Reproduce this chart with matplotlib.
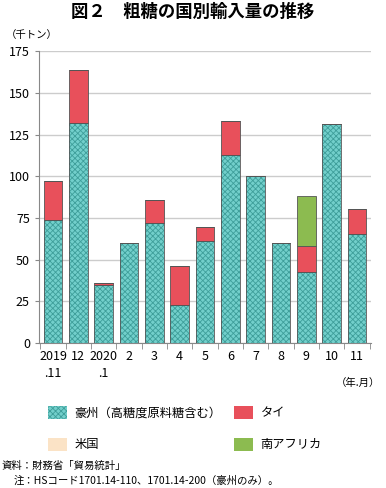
import matplotlib.pyplot as plt
import matplotlib.patches as mpatches
import numpy as np

plt.rcParams['font.family'] = ['Noto Sans CJK JP', 'DejaVu Sans']
plt.rcParams['hatch.linewidth'] = 0.6

# データ（千トン）
meses = ['2019\n.11', '12', '2020\n.1', '2', '3', '4', '5', '6', '7', '8', '9', '10', '11']
australia = [74, 132, 35, 60, 72, 23, 61, 113, 100, 60, 42.5, 131.5, 65.5]
tailandia = [23, 32, 1, 0, 13.5, 23, 8.5, 20, 0, 0, 15.5, 0, 15]
eeuu = [0, 0, 0, 0, 0, 0, 0, 0, 0, 0, 0, 0, 0]
sudafrica = [0, 0, 0, 0, 0, 0, 0, 0, 0, 0, 30, 0, 0]

c_aus = '#72cfcb'
c_hatch = '#3e9e9a'
c_tai = '#e8505b'
c_us = '#fbe3c6'
c_sa = '#8cbb50'
borde = '#555555'

fig = plt.figure(figsize=(3.86, 4.88), dpi=100)
ax = fig.add_axes([0.101, 0.297, 0.860, 0.598])

x = np.arange(len(meses))
w = 0.74
aus = np.array(australia)
tai = np.array(tailandia)
us = np.array(eeuu)
sa = np.array(sudafrica)

# barras apiladas
ax.bar(x, aus, w, color=c_aus, hatch='xxxxxx', edgecolor=c_hatch, linewidth=0, zorder=3)
ax.bar(x, aus, w, fill=False, edgecolor=borde, linewidth=0.6, zorder=4)
ax.bar(x, tai, w, bottom=aus, color=c_tai, edgecolor=borde, linewidth=0.6, zorder=3)
ax.bar(x, us, w, bottom=aus + tai, color=c_us, edgecolor=borde, linewidth=0.6, zorder=3)
ax.bar(x, sa, w, bottom=aus + tai + us, color=c_sa, edgecolor=borde, linewidth=0.6, zorder=3)

ax.set_xlim(-0.55, len(meses) - 0.45)
ax.set_ylim(0, 175)
ax.set_yticks(range(0, 176, 25))
ax.grid(axis='y', color='#cccccc', linewidth=1.0, zorder=0)
ax.set_axisbelow(True)

ax.set_xticks(x)
ax.set_xticklabels(meses, fontsize=9, va='top', linespacing=1.35)
ax.tick_params(axis='x', length=0, pad=5)
ax.set_xticks(np.arange(-0.5, len(meses), 1), minor=True)
ax.tick_params(axis='x', which='minor', length=4, color='#888888', direction='out')
ax.tick_params(axis='y', labelsize=9, length=3, color='#888888')

for s in ['top', 'right']:
    ax.spines[s].set_visible(False)
ax.spines['left'].set_color('#888888')
ax.spines['bottom'].set_color('#888888')

# textos
fig.text(0.5, 0.975, '図２　粗糖の国別輸入量の推移', ha='center', va='center',
         fontsize=12.5, fontweight='bold')
fig.text(0.015, 0.928, '（千トン）', ha='left', va='center', fontsize=7.5)
fig.text(0.985, 0.215, '（年.月）', ha='right', va='center', fontsize=7.5)

h_aus = mpatches.Patch(facecolor=c_aus, hatch='xxxxxx', edgecolor=c_hatch, linewidth=0)
h_tai = mpatches.Patch(facecolor=c_tai, edgecolor='none')
h_us = mpatches.Patch(facecolor=c_us, edgecolor='none')
h_sa = mpatches.Patch(facecolor=c_sa, edgecolor='none')
fig.legend([h_aus, h_us, h_tai, h_sa],
           ['豪州（高糖度原料糖含む）', '米国', 'タイ', '南アフリカ'],
           ncol=2, loc='upper left', bbox_to_anchor=(0.095, 0.19),
           frameon=False, fontsize=8.8, handlelength=1.6, handleheight=1.2,
           labelspacing=1.5, columnspacing=1.0, handletextpad=0.6)

fig.text(0.005, 0.045, '資料：財務省「貿易統計」', ha='left', va='center', fontsize=7.5)
fig.text(0.035, 0.016, '注：HSコード1701.14-110、1701.14-200（豪州のみ）。', ha='left',
         va='center', fontsize=7.5)

plt.savefig('out.png', dpi=100)
